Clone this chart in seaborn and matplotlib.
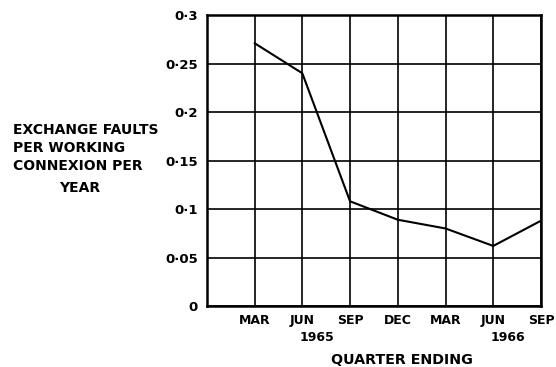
import matplotlib
matplotlib.use("Agg")
import matplotlib.pyplot as plt
import matplotlib.transforms as mtransforms
import seaborn as sns
import pandas as pd

quarters = ["MAR", "JUN", "SEP", "DEC", "MAR", "JUN", "SEP"]
faults = [0.271, 0.240, 0.108, 0.089, 0.080, 0.062, 0.088]
year_labels = [(1, "1965"), (5, "1966")]
y_ticks = [0, 0.05, 0.1, 0.15, 0.2, 0.25, 0.3]
y_tick_labels = ["0", "0·05", "0·1", "0·15", "0·2", "0·25", "0·3"]

sns.set_style("white")
plt.rcParams["font.family"] = ["DejaVu Sans"]
plt.rcParams["font.weight"] = "bold"
plt.rcParams["text.color"] = "black"
plt.rcParams["xtick.color"] = "black"
plt.rcParams["ytick.color"] = "black"

df = pd.DataFrame({"pos": range(len(quarters)), "faults": faults})

fig = plt.figure(figsize=(5.56, 3.67), dpi=100)
ax = fig.add_axes([0.372, 0.166, 0.601, 0.793])

sns.lineplot(data=df, x="pos", y="faults", ax=ax, color="black", linewidth=1.5,
             zorder=3)

ax.set_xlim(-1, len(quarters) - 1)
ax.set_ylim(0, 0.3)
ax.set_xticks(range(len(quarters)))
ax.set_xticklabels(quarters, fontsize=9, fontweight="bold")
ax.set_yticks(y_ticks)
ax.set_yticklabels(y_tick_labels, fontsize=9.5, fontweight="bold")
ax.tick_params(axis="x", length=0, pad=6)
ax.tick_params(axis="y", length=0, pad=6.5)

ax.grid(True, color="black", linewidth=1.2)
for s in ax.spines.values():
    s.set_color("black")
    s.set_linewidth(1.8)

ax.set_xlabel("")
ax.set_ylabel("")

trans = mtransforms.blended_transform_factory(ax.transData, ax.transAxes)
for pos, yr in year_labels:
    ax.text(pos + 0.3, -0.085, yr, transform=trans, ha="center", va="top",
            fontsize=9, fontweight="bold")

ax.text(0.585, -0.16, "QUARTER ENDING", transform=ax.transAxes, ha="center",
        va="top", fontsize=10.3, fontweight="bold")

# y-axis caption: three left-aligned lines, last word centred beneath
fig.text(0.024, 0.665, "EXCHANGE FAULTS\nPER WORKING\nCONNEXION PER",
         ha="left", va="top", fontsize=10, fontweight="bold", linespacing=1.35)
fig.text(0.143, 0.507, "YEAR", ha="center", va="top", fontsize=10,
         fontweight="bold")

fig.savefig("out.png", dpi=100, facecolor="white")
